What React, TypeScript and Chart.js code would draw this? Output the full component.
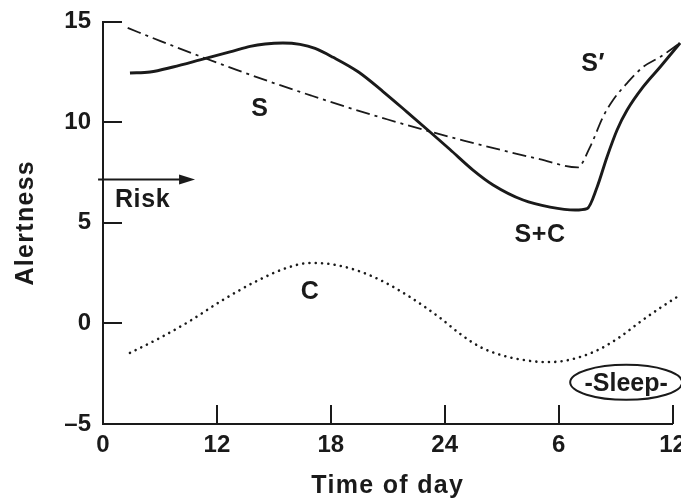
import React, { useEffect, useRef } from 'react';
import { Chart, registerables } from 'chart.js';

Chart.register(...registerables);

// ---- axes ----
const xTickValues = [6, 12, 18, 24, 30, 36];
const xTickLabels = ['0', '12', '18', '24', '6', '12'];
const yTickValues = [-5, 0, 5, 10, 15];
const yTickLabels = ['–5', '0', '5', '10', '15'];

// ---- S (homeostatic process, dash-dot; rising part = S') ----
const sHours = [7.3, 9.0, 11.0, 13.0, 15.0, 17.0, 19.0, 21.0, 23.0, 25.0, 27.0, 29.0, 31.0, 31.66, 32.34, 32.87, 33.61, 34.45, 35.35, 36.4];
const sValues = [14.68, 14.04, 13.31, 12.61, 11.94, 11.31, 10.7, 10.13, 9.59, 9.08, 8.61, 8.16, 7.75, 8.77, 10.26, 11.1, 11.94, 12.74, 13.24, 13.93];

// ---- S+C (solid) ----
const scHours = [7.42, 8.48, 9.69, 11.11, 12.85, 13.75, 14.54, 15.48, 16.38, 17.17, 18.12, 19.44, 20.75, 22.02, 23.23, 24.28, 25.49, 26.55, 28.13, 29.55, 30.87, 31.5, 32.03, 32.55, 33.08, 33.61, 34.45, 35.35, 36.4];
const scValues = [12.44, 12.49, 12.74, 13.09, 13.53, 13.76, 13.88, 13.93, 13.86, 13.66, 13.22, 12.5, 11.52, 10.5, 9.51, 8.64, 7.62, 6.88, 6.13, 5.78, 5.63, 5.7, 6.78, 8.27, 9.61, 10.6, 11.75, 12.74, 13.93];

// ---- C (circadian process, dotted) ----
const cHours = [7.42, 9.0, 10.58, 12.32, 14.11, 15.69, 16.91, 17.96, 19.28, 20.59, 22.17, 23.76, 24.81, 25.86, 26.92, 27.97, 29.29, 30.08, 31.13, 32.18, 33.24, 34.29, 35.35, 36.4];
const cValues = [-1.47, -0.72, 0.12, 1.17, 2.11, 2.76, 3.0, 2.95, 2.66, 2.16, 1.31, 0.27, -0.52, -1.17, -1.56, -1.79, -1.92, -1.89, -1.67, -1.27, -0.67, 0.07, 0.77, 1.41];

// ---- text annotations (data coordinates) ----
const curveLabelTexts = ['S', 'S′', 'S+C', 'C'];
const curveLabelHours = [14.27, 31.82, 29.02, 16.91];
const curveLabelValues = [10.75, 12.99, 4.49, 1.66];
const riskText = 'Risk';
const riskArrowHours = [5.74, 10.85];
const riskArrowValue = 7.15;
const riskLabelHour = 6.63;
const riskLabelValue = 6.23;
const sleepText = '-Sleep-';
const sleepHour = 33.56;
const sleepValue = -2.93;
const sleepHalfSpanHours = 2.95;
const sleepHalfSpanValue = 0.87;
const xTitle = 'Time of day';
const yTitle = 'Alertness';

const INK = '#1a1a1a';
const FAMILY = '"Liberation Sans", Arial, Helvetica, sans-serif';
const TICK_SIZE = 24;
const TEXT_SIZE = 25;

const toPoints = (xs: number[], ys: number[]) => xs.map((x, i) => ({ x, y: ys[i] }));

const annotationPlugin = {
  id: 'annotations',
  afterDatasetsDraw(chart: any) {
    const { ctx, chartArea } = chart;
    const x = chart.scales.x;
    const y = chart.scales.y;
    ctx.save();
    ctx.strokeStyle = INK;
    ctx.fillStyle = INK;
    ctx.lineCap = 'butt';

    // inward tick marks
    ctx.lineWidth = 2;
    ctx.beginPath();
    for (const v of xTickValues.slice(1)) {
      const px = Math.round(x.getPixelForValue(v));
      ctx.moveTo(px, chartArea.bottom);
      ctx.lineTo(px, chartArea.bottom - 19);
    }
    for (const v of yTickValues.slice(1)) {
      const py = Math.round(y.getPixelForValue(v));
      ctx.moveTo(chartArea.left, py);
      ctx.lineTo(chartArea.left + 19, py);
    }
    ctx.stroke();

    ctx.font = `bold ${TEXT_SIZE}px ${FAMILY}`;
    (ctx as any).letterSpacing = '0.6px';
    ctx.textBaseline = 'alphabetic';
    const capHalf = TEXT_SIZE * 0.36;

    // curve labels
    ctx.textAlign = 'center';
    curveLabelTexts.forEach((t, i) => {
      ctx.fillText(t, x.getPixelForValue(curveLabelHours[i]), y.getPixelForValue(curveLabelValues[i]) + capHalf);
    });

    // risk arrow
    const ay = y.getPixelForValue(riskArrowValue);
    const ax0 = x.getPixelForValue(riskArrowHours[0]);
    const ax1 = x.getPixelForValue(riskArrowHours[1]);
    ctx.lineWidth = 2;
    ctx.beginPath();
    ctx.moveTo(ax0, ay);
    ctx.lineTo(ax1 - 10, ay);
    ctx.stroke();
    ctx.beginPath();
    ctx.moveTo(ax1, ay);
    ctx.lineTo(ax1 - 16, ay - 5);
    ctx.lineTo(ax1 - 16, ay + 5);
    ctx.closePath();
    ctx.fill();
    ctx.textAlign = 'left';
    ctx.fillText(riskText, x.getPixelForValue(riskLabelHour), y.getPixelForValue(riskLabelValue) + capHalf);

    // sleep ellipse
    const sx = x.getPixelForValue(sleepHour);
    const sy = y.getPixelForValue(sleepValue);
    const rx = Math.abs(x.getPixelForValue(sleepHour + sleepHalfSpanHours) - sx);
    const ry = Math.abs(y.getPixelForValue(sleepValue + sleepHalfSpanValue) - sy);
    ctx.lineWidth = 2;
    ctx.beginPath();
    ctx.ellipse(sx, sy, rx, ry, 0, 0, Math.PI * 2);
    ctx.stroke();
    ctx.textAlign = 'center';
    (ctx as any).letterSpacing = '0px';
    ctx.fillText(sleepText, sx, sy + capHalf);

    // axis titles
    (ctx as any).letterSpacing = '1.3px';
    ctx.textAlign = 'center';
    ctx.fillText(xTitle, (chartArea.left + chartArea.right) / 2, chartArea.bottom + 69);
    ctx.translate(33, (chartArea.top + chartArea.bottom) / 2);
    ctx.rotate(-Math.PI / 2);
    ctx.fillText(yTitle, 0, 0);
    ctx.restore();
  },
};

export default function App() {
  const ref = useRef<HTMLCanvasElement>(null);
  useEffect(() => {
    if (!ref.current) return;
    const tickFont = { family: FAMILY, size: TICK_SIZE, weight: 'bold' as const };
    const chart = new Chart(ref.current, {
      type: 'line',
      data: {
        datasets: [
          {
            label: 'S',
            data: toPoints(sHours, sValues),
            borderColor: INK,
            borderWidth: 1.8,
            borderDash: [14, 5, 3, 5],
            pointRadius: 0,
            cubicInterpolationMode: 'monotone',
            clip: false as any,
          },
          {
            label: 'S+C',
            data: toPoints(scHours, scValues),
            borderColor: INK,
            borderWidth: 2.9,
            pointRadius: 0,
            cubicInterpolationMode: 'monotone',
            clip: false as any,
          },
          {
            label: 'C',
            data: toPoints(cHours, cValues),
            borderColor: INK,
            borderWidth: 2.6,
            borderDash: [0.01, 6.3],
            borderCapStyle: 'round',
            pointRadius: 0,
            cubicInterpolationMode: 'monotone',
            clip: false as any,
          },
        ],
      },
      options: {
        responsive: false,
        animation: false,
        devicePixelRatio: 1,
        layout: { padding: { top: 21.5, right: 8.5, left: 0, bottom: 0 } },
        plugins: { legend: { display: false }, tooltip: { enabled: false } },
        scales: {
          x: {
            type: 'linear',
            min: 6,
            max: 36,
            grid: { display: true, drawOnChartArea: false, drawTicks: false },
            border: { display: true, width: 2, color: INK },
            afterBuildTicks: (scale: any) => {
              scale.ticks = xTickValues.map((v) => ({ value: v }));
            },
            afterFit: (scale: any) => {
              scale.height = 76;
              scale.paddingLeft = 0;
              scale.paddingRight = 0;
            },
            ticks: {
              autoSkip: false,
              maxRotation: 0,
              padding: 7,
              color: INK,
              font: tickFont,
              callback: (_v: any, i: number) => xTickLabels[i],
            },
          },
          y: {
            type: 'linear',
            min: -5,
            max: 15,
            grid: { display: true, drawOnChartArea: false, drawTicks: false },
            border: { display: true, width: 2, color: INK },
            afterBuildTicks: (scale: any) => {
              scale.ticks = yTickValues.map((v) => ({ value: v }));
            },
            afterFit: (scale: any) => {
              scale.width = 103;
              scale.paddingTop = 0;
              scale.paddingBottom = 0;
            },
            ticks: {
              autoSkip: false,
              padding: 12,
              color: INK,
              font: tickFont,
              callback: (_v: any, i: number) => yTickLabels[i],
            },
          },
        },
      },
      plugins: [annotationPlugin],
    } as any);
    return () => chart.destroy();
  }, []);
  return (
    <div style={{ position: 'absolute', left: 0, top: 0, width: 681, height: 500, background: '#fff' }}>
      <canvas ref={ref} width={681} height={500} style={{ display: 'block', width: 681, height: 500 }} />
    </div>
  );
}
